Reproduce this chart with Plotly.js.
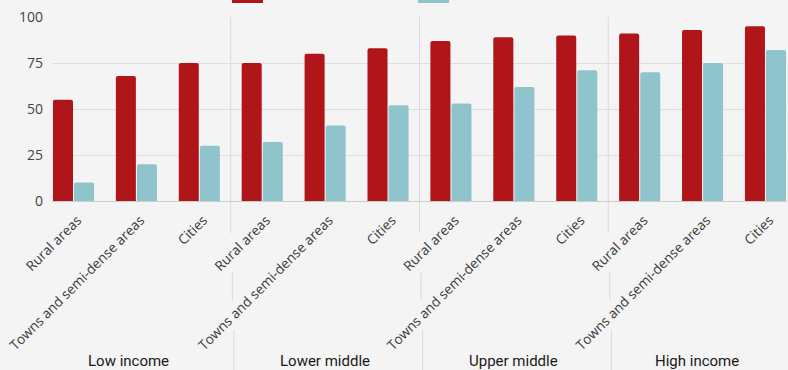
<!DOCTYPE html>
<html>
<head>
<meta charset="utf-8">
<script src="https://cdn.plot.ly/plotly-3.0.1.min.js"></script>
<style>
  html, body { margin: 0; padding: 0; background: #f4f4f4; }
  #chart { width: 788px; height: 370px; }
</style>
</head>
<body>
<div id="chart"></div>
<script>
// Income groups and settlement types (three per group)
const incomeGroups = ['Low income', 'Lower middle', 'Upper middle', 'High income'];
const areaTypes = ['Rural areas', 'Towns and semi-dense areas', 'Cities'];

// Series names
const seriesNames = ['Mobile phone', 'Using the Internet'];

// Percentages per group, in order: rural, towns, cities for each income group
const phoneValues = [55, 68, 75, 75, 80, 83, 87, 89, 90, 91, 93, 95];
const internetValues = [10, 20, 30, 32, 41, 52, 53, 62, 71, 70, 75, 82];

const yTicks = [0, 25, 50, 75, 100];

const RED = '#b0151a';
const TEAL = '#8fc4cc';

// one slot per (income group, area type)
const tickText = [];
incomeGroups.forEach(() => areaTypes.forEach(a => tickText.push(a)));
const xPos = tickText.map((_, i) => i);

const traces = [
  { type: 'bar', name: seriesNames[0], x: xPos, y: phoneValues,
    marker: { color: RED }, hoverinfo: 'y' },
  { type: 'bar', name: seriesNames[1], x: xPos, y: internetValues,
    marker: { color: TEAL }, hoverinfo: 'y' }
];

const shapes = [];
const annotations = [];
const sepColor = '#d9d9d9';

// dividers between income groups, broken where the rotated labels run
for (let g = 1; g < incomeGroups.length; g++) {
  const xs = g * areaTypes.length - 0.5;
  [[1, -0.174, 0], [-0.386, -0.538, 0.025], [-0.701, -0.93, 0.05]].forEach(s => {
    shapes.push({ type: 'line', xref: 'x', yref: 'paper',
      x0: xs + s[2], x1: xs + s[2], y0: s[0], y1: s[1],
      line: { color: sepColor, width: 1 }, layer: 'below' });
  });
}

// income group labels; the outer two sit centred on their visible span
const groupLabelX = [0.87, 4, 7, 9.91];
incomeGroups.forEach((name, g) => {
  annotations.push({ text: name, xref: 'x', yref: 'paper',
    x: groupLabelX[g], y: -0.868, showarrow: false,
    xanchor: 'center', yanchor: 'middle',
    font: { family: 'Roboto, sans-serif', size: 15, color: '#1a1a1a' } });
});

// legend swatches along the top edge (the row runs off the top of the page)
const legendSwatches = [
  { color: RED, x0: 0.2449, x1: 0.2871 },
  { color: TEAL, x0: 0.4980, x1: 0.5402 }
];
legendSwatches.forEach(it => {
  shapes.push({ type: 'rect', xref: 'paper', yref: 'paper',
    x0: it.x0, x1: it.x1, y0: 1.076, y1: 1.15,
    fillcolor: it.color, line: { width: 0 } });
});

const layout = {
  width: 788, height: 370,
  margin: { l: 52, r: 1, t: 17, b: 169 },
  paper_bgcolor: '#f4f4f4',
  plot_bgcolor: '#f4f4f4',
  barmode: 'group',
  bargap: 0.33,
  bargroupgap: 0.05,
  barcornerradius: 2,
  showlegend: false,
  xaxis: {
    range: [-0.342, 11.342],
    tickvals: xPos, ticktext: tickText,
    tickangle: -45,
    showgrid: false, zeroline: false,
    showline: true, linecolor: '#cccccc', linewidth: 1,
    ticks: '',
    ticklabelstandoff: 5,
    ticklabelshift: 4,
    tickfont: { family: 'Open Sans, sans-serif', size: 13.6, color: '#3a3a3a' },
    fixedrange: true
  },
  yaxis: {
    range: [0, 100],
    tickvals: yTicks,
    showgrid: true, gridcolor: '#dedede', gridwidth: 1,
    zeroline: false, showline: false, ticks: '',
    ticklabelstandoff: 8,
    tickfont: { family: 'Open Sans, sans-serif', size: 14, color: '#444444' },
    fixedrange: true
  },
  shapes: shapes,
  annotations: annotations
};

Plotly.newPlot('chart', traces, layout, { displayModeBar: false, staticPlot: true });
</script>
</body>
</html>
